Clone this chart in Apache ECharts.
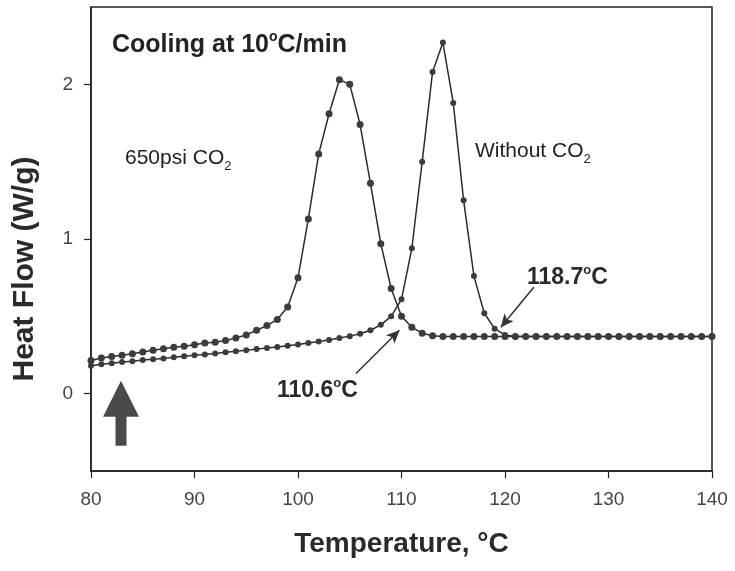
<!DOCTYPE html>
<html>
<head>
<meta charset="utf-8">
<script src="https://cdn.jsdelivr.net/npm/echarts@6/dist/echarts.min.js"></script>
<style>html,body{margin:0;padding:0;background:#fff}#c{width:735px;height:571px}</style>
</head>
<body>
<div id="c"></div>
<script>
// Temperature (°C)
const temps = [80,81,82,83,84,85,86,87,88,89,90,91,92,93,94,95,96,97,98,99,
  100,101,102,103,104,105,106,107,108,109,110,111,112,113,114,115,116,117,118,119,
  120,121,122,123,124,125,126,127,128,129,130,131,132,133,134,135,136,137,138,139,140];
// Heat flow (W/g), 650psi CO2
const co2Values = [0.215,0.23,0.24,0.248,0.258,0.27,0.28,0.29,0.30,0.306,
  0.316,0.327,0.333,0.344,0.36,0.38,0.41,0.44,0.48,0.56,
  0.75,1.13,1.55,1.81,2.03,2.00,1.74,1.36,0.97,0.68,
  0.50,0.43,0.39,0.375,0.37,0.37,0.37,0.37,0.37,0.37,
  0.37,0.37,0.37,0.37,0.37,0.37,0.37,0.37,0.37,0.37,
  0.37,0.37,0.37,0.37,0.37,0.37,0.37,0.37,0.37,0.37,0.37];
// Heat flow (W/g), without CO2
const noCo2Values = [0.18,0.19,0.197,0.204,0.21,0.217,0.223,0.228,0.235,0.242,
  0.248,0.254,0.26,0.267,0.274,0.28,0.288,0.295,0.302,0.31,
  0.318,0.327,0.337,0.347,0.36,0.372,0.387,0.41,0.445,0.50,
  0.61,0.94,1.50,2.08,2.27,1.88,1.25,0.76,0.52,0.42,
  0.38,0.37,0.37,0.37,0.37,0.37,0.37,0.37,0.37,0.37,
  0.37,0.37,0.37,0.37,0.37,0.37,0.37,0.37,0.37,0.37,0.37];
const yTicks = [0, 1, 2];
const xTicks = [80, 90, 100, 110, 120, 130, 140];

const FONT = '"Liberation Sans", Arial, Helvetica, sans-serif';
const pairs = (vals) => temps.map((t, i) => [t, vals[i]]);

const chart = echarts.init(document.getElementById('c'), null, {renderer: 'canvas'});
chart.setOption({
  animation: false,
  backgroundColor: '#fff',
  grid: {left: 91, right: 23, top: 7, bottom: 100, show: true, borderColor: '#222', borderWidth: 1.5},
  xAxis: {
    type: 'value', min: 80, max: 140, interval: 10,
    name: 'Temperature, °C', nameLocation: 'middle', nameGap: 59,
    nameTextStyle: {fontFamily: FONT, fontSize: 28, fontWeight: 'bold', color: '#2a2a2a'},
    axisLine: {show: true, onZero: false, lineStyle: {color: '#222', width: 1.5}},
    axisTick: {show: true, length: 7, lineStyle: {color: '#222', width: 1.2}, customValues: xTicks},
    axisLabel: {fontFamily: FONT, fontSize: 19, color: '#444', margin: 19, customValues: xTicks},
    splitLine: {show: false}
  },
  yAxis: {
    type: 'value', min: -0.5, max: 2.5,
    name: 'Heat Flow (W/g)', nameLocation: 'middle', nameGap: 51,
    nameTextStyle: {fontFamily: FONT, fontSize: 30, fontWeight: 'bold', color: '#2a2a2a', padding: [0, 60, 0, 0]},
    axisLine: {show: true, onZero: false, lineStyle: {color: '#222', width: 1.5}},
    axisTick: {show: true, length: 7, lineStyle: {color: '#222', width: 1.2}, customValues: yTicks},
    axisLabel: {fontFamily: FONT, fontSize: 19, color: '#444', margin: 18, customValues: yTicks},
    splitLine: {show: false}
  },
  series: [
    {
      name: '650psi CO2', type: 'line', data: pairs(co2Values),
      symbol: 'circle', symbolSize: 7, showSymbol: true,
      lineStyle: {color: '#2b2b2b', width: 1.5},
      itemStyle: {color: '#3a3d3b', borderWidth: 0},
      z: 3,
      markPoint: {
        silent: true,
        symbol: 'path://M18,0 L36,36 L23.5,36 L23.5,65 L12.5,65 L12.5,36 L0,36 Z',
        symbolSize: [36, 65],
        itemStyle: {color: '#4a4a4a'},
        label: {show: false},
        data: [{coord: [82.9, -0.126]}]
      }
    },
    {
      name: 'Without CO2', type: 'line', data: pairs(noCo2Values),
      symbol: 'circle', symbolSize: 6, showSymbol: true,
      lineStyle: {color: '#2b2b2b', width: 1.5},
      itemStyle: {color: '#3a3d3b', borderWidth: 0},
      z: 2,
      markLine: {
        silent: true,
        symbol: ['none', 'arrow'], symbolSize: [9, 13],
        lineStyle: {color: '#333', width: 1.5, type: 'solid'},
        label: {show: false},
        data: [
          [{coord: [122.8, 0.69]}, {coord: [119.6, 0.43]}],
          [{coord: [105.6, 0.13]}, {coord: [109.8, 0.41]}]
        ]
      }
    }
  ],
  graphic: [
    {type: 'text', left: 112, top: 30, silent: true, style: {
      text: '{b|Cooling at 10}{s|o}{b|C/min}', fill: '#222',
      rich: {
        b: {fontFamily: FONT, fontSize: 25, fontWeight: 'bold', fill: '#222', lineHeight: 30},
        s: {fontFamily: FONT, fontSize: 14, fontWeight: 'bold', fill: '#222', lineHeight: 14, verticalAlign: 'top'}
      }}},
    {type: 'text', left: 125, top: 148, silent: true, style: {
      text: '{r|650psi CO}{d|2}', fill: '#222',
      rich: {
        r: {fontFamily: FONT, fontSize: 21, fill: '#222', lineHeight: 28},
        d: {fontFamily: FONT, fontSize: 13, fill: '#222', lineHeight: 12, verticalAlign: 'bottom'}
      }}},
    {type: 'text', left: 475, top: 141, silent: true, style: {
      text: '{r|Without CO}{d|2}', fill: '#222',
      rich: {
        r: {fontFamily: FONT, fontSize: 21, fill: '#222', lineHeight: 28},
        d: {fontFamily: FONT, fontSize: 13, fill: '#222', lineHeight: 12, verticalAlign: 'bottom'}
      }}},
    {type: 'text', left: 527, top: 264, silent: true, style: {
      text: '{b|118.7}{s|o}{b|C}', fill: '#222',
      rich: {
        b: {fontFamily: FONT, fontSize: 23, fontWeight: 'bold', fill: '#2a2a2a', lineHeight: 28},
        s: {fontFamily: FONT, fontSize: 13, fontWeight: 'bold', fill: '#2a2a2a', lineHeight: 13, verticalAlign: 'top'}
      }}},
    {type: 'text', left: 277, top: 377, silent: true, style: {
      text: '{b|110.6}{s|o}{b|C}', fill: '#222',
      rich: {
        b: {fontFamily: FONT, fontSize: 23, fontWeight: 'bold', fill: '#2a2a2a', lineHeight: 28},
        s: {fontFamily: FONT, fontSize: 13, fontWeight: 'bold', fill: '#2a2a2a', lineHeight: 13, verticalAlign: 'top'}
      }}}
  ]
});
</script>
</body>
</html>
